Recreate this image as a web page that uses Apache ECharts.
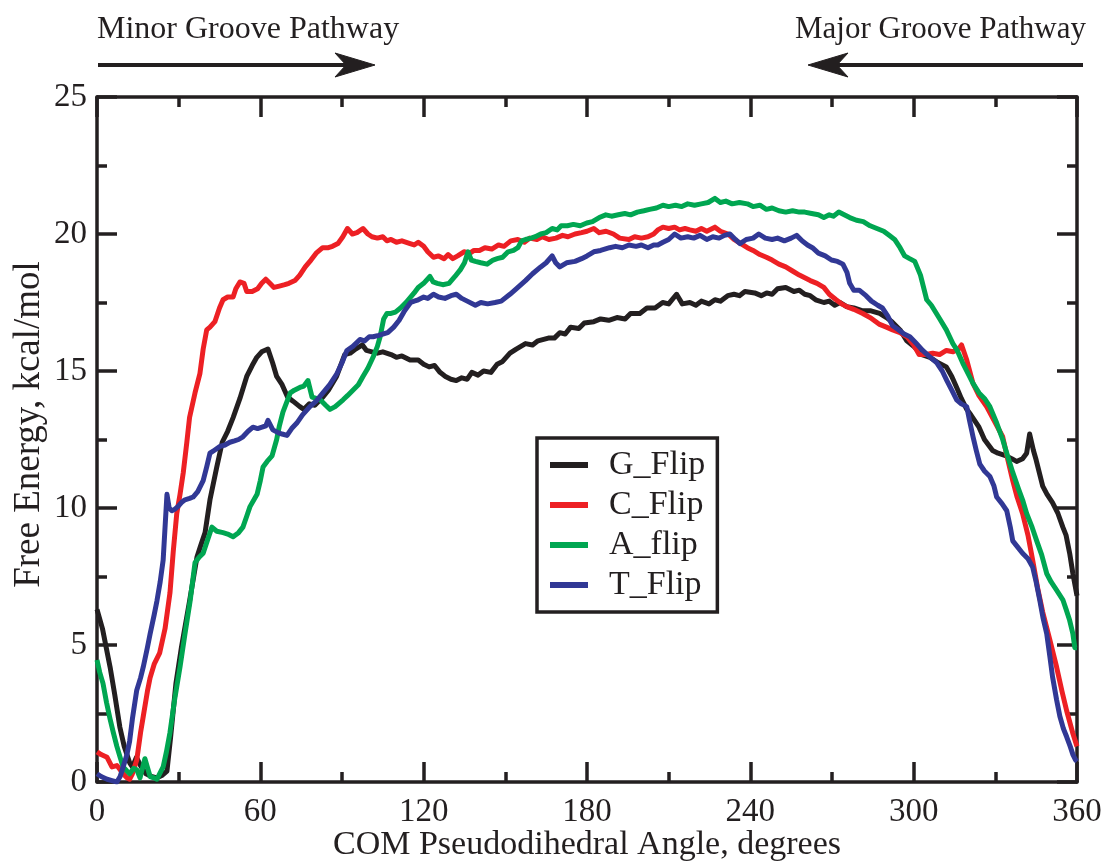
<!DOCTYPE html>
<html>
<head>
<meta charset="utf-8">
<script src="https://cdn.jsdelivr.net/npm/echarts@6/dist/echarts.min.js"></script>
<style>
html,body{margin:0;padding:0;background:#fff;}
#chart{width:1108px;height:861px;}
</style>
</head>
<body>
<div id="chart"></div>
<script>
// ---- data (angle in degrees, free energy in kcal/mol) ----
var seriesNames = ['G_Flip', 'C_Flip', 'A_flip', 'T_Flip'];
var xTicks = [0, 60, 120, 180, 240, 300, 360];
var yTicks = [0, 5, 10, 15, 20, 25];

var gFlip = [[0,6.3],[2,5.6],[4.8,4.2],[6.5,3.2],[8.4,2.0],[10,1.3],[12,0.7],[13,0.55],[14.5,0.9],[16,0.6],[18,0.3],[20,0.2],[22,0.15],[24,0.25],[25.7,0.4],[27,1.6],[29,3.6],[31,4.9],[34,6.6],[36.7,8.2],[38,8.6],[39.7,9.1],[41.5,10.3],[44,11.5],[46,12.4],[48,12.8],[50,13.3],[52.5,14.0],[55,14.8],[57,15.2],[58.7,15.5],[60.5,15.7],[62.8,15.8],[64.5,15.3],[66,14.8],[68,14.5],[70,14.05],[72,13.9],[74.5,13.7],[76,13.6],[78,13.8],[80,13.75],[83,14.05],[85,14.3],[88,14.8],[91,15.6],[93,15.65],[95,15.8],[97.5,15.95],[99,15.75],[101,15.7],[103,15.65],[105,15.7],[108,15.6],[110,15.5],[112,15.55],[115,15.4],[118,15.4],[120,15.25],[122,15.15],[124,15.2],[126,14.95],[128,14.8],[130,14.7],[132,14.65],[134,14.75],[136,14.7],[137.7,14.95],[140,14.85],[142,15.0],[144.7,14.95],[147,15.25],[149,15.35],[151.7,15.65],[154,15.8],[157.4,16.0],[160,15.95],[162,16.1],[165.8,16.2],[168,16.2],[170,16.4],[172,16.35],[174,16.6],[177,16.55],[179,16.75],[182.5,16.8],[185,16.9],[188,16.85],[191,16.95],[194,16.9],[196,17.1],[199.4,17.1],[202,17.3],[205,17.3],[207.8,17.5],[210,17.45],[212.9,17.8],[215,17.45],[217.8,17.5],[220,17.4],[222,17.55],[224.8,17.45],[227,17.6],[229,17.55],[231.7,17.75],[234,17.8],[236,17.75],[238,17.9],[241.6,17.85],[244,17.75],[246,17.85],[248,17.8],[250,18.0],[253,18.05],[256,17.9],[258,17.95],[260,17.8],[262,17.75],[264,17.6],[267,17.5],[269,17.55],[271,17.4],[273,17.5],[275.4,17.35],[278,17.3],[281,17.2],[284,17.2],[287.5,17.1],[290,16.95],[292,16.8],[295,16.5],[297.5,16.1],[300,15.9],[303,15.6],[306,15.5],[309,15.3],[312,15.15],[314,14.8],[315.8,14.4],[317.5,14.0],[319.5,13.6],[321,13.4],[324,12.95],[326,12.5],[329,12.1],[331,12.0],[334,11.9],[336,11.8],[337.8,11.7],[340,11.8],[341.5,12.0],[342.6,12.7],[344,12.1],[345,11.75],[347.4,10.8],[349,10.5],[351,10.2],[353,9.8],[354.8,9.3],[356,9.0],[357.3,8.35],[358.5,7.6],[360,6.8]];

var cFlip = [[0,1.1],[1.5,1.0],[3.7,0.9],[5.5,0.55],[7.3,0.6],[8.5,0.45],[9.6,0.3],[11,0.15],[12,0.1],[13,0.3],[14.6,0.8],[16,1.8],[17,2.4],[18.5,3.3],[19.5,3.8],[21,4.3],[23,4.7],[25,5.6],[26.8,6.9],[28,8.4],[29.3,9.8],[30.5,10.5],[31.7,11.3],[33,12.4],[34,13.3],[36,14.2],[37.8,14.9],[39,15.8],[40.3,16.5],[41.5,16.6],[43.3,16.8],[45,17.3],[46.3,17.6],[48,17.7],[50,17.7],[51,18.0],[52.5,18.25],[54,18.2],[55,17.9],[57,17.9],[59,18.0],[60.5,18.2],[62,18.35],[63.5,18.2],[65,18.05],[67,18.1],[69,18.15],[70.5,18.2],[72.7,18.3],[74.5,18.5],[76.5,18.8],[78.6,19.05],[80.5,19.3],[82.9,19.5],[85,19.5],[86.5,19.55],[88.5,19.65],[90.3,19.9],[92,20.2],[93.8,20.0],[95.5,20.05],[97.7,20.2],[99.5,20.0],[101,19.9],[103,19.85],[105,19.9],[106.5,19.75],[108,19.8],[110,19.7],[112,19.75],[115,19.65],[116.5,19.6],[118,19.7],[120,19.55],[121.5,19.35],[123.6,19.15],[125.5,19.2],[127.5,19.1],[129,19.25],[130.7,19.1],[132.5,19.2],[134.8,19.35],[137,19.3],[138.5,19.4],[140.5,19.4],[142.5,19.5],[145,19.45],[147.5,19.6],[149.5,19.55],[152,19.75],[154.6,19.8],[157,19.7],[159,19.85],[161.6,19.8],[163.5,19.9],[166,19.8],[168.6,19.85],[171,19.95],[173,19.9],[175.6,20.0],[178,20.05],[180,20.1],[182.5,20.2],[184.5,20.05],[187,20.1],[189.7,20.0],[192,19.85],[195.4,19.8],[197.5,19.9],[200,19.85],[202.4,19.9],[204.5,20.0],[206,20.15],[207.9,20.25],[210,20.2],[212.2,20.25],[214,20.15],[216,20.2],[217.8,20.15],[220,20.1],[222,20.2],[224,20.1],[227,20.25],[229,20.1],[231.8,20.0],[234,19.8],[236.5,19.65],[238.9,19.5],[241,19.4],[243.5,19.25],[245.9,19.15],[248,19.05],[250.5,18.9],[253,18.8],[255.5,18.65],[258,18.5],[260,18.4],[262,18.3],[264.5,18.2],[267,18.05],[269,17.8],[271.5,17.6],[273.5,17.45],[275.4,17.35],[278,17.25],[281.3,17.1],[284,16.95],[287.5,16.7],[290,16.6],[292.3,16.5],[295,16.4],[297.5,16.25],[300,15.95],[302,15.6],[304.5,15.6],[307,15.65],[309.5,15.6],[312,15.75],[314.5,15.7],[316.5,15.8],[317.6,15.95],[319.5,15.4],[321.8,14.55],[324,14.1],[326.8,13.7],[329.5,13.2],[332.7,12.6],[334.5,11.8],[336.4,11.0],[338,10.4],[340,9.8],[342,9.0],[343.7,8.1],[345.5,7.1],[347.4,6.2],[350,5.2],[352.5,4.2],[354.5,3.3],[356.2,2.6],[358.4,1.8],[360,1.3]];

var aFlip = [[0,4.45],[1,4.0],[2.2,3.6],[3.5,2.9],[4.8,2.3],[6,1.8],[7.3,1.3],[8.5,0.9],[9.6,0.55],[11,0.4],[12,0.3],[13.5,0.5],[14.6,0.45],[15.8,0.15],[17.6,0.85],[19.5,0.2],[21,0.15],[22,0.1],[23,0.3],[24.3,0.55],[25.5,1.1],[26.8,1.8],[28.5,3.0],[30.5,4.2],[32.3,5.4],[34.2,6.6],[36,8.0],[37.5,8.2],[39,8.35],[40.5,8.8],[42.2,9.3],[44,9.15],[46.3,9.1],[48,9.05],[50,8.95],[52,9.1],[53.6,9.3],[55,9.7],[56.2,10.05],[58.8,10.5],[60,11.0],[61,11.5],[62.5,11.7],[64.3,11.9],[66,12.5],[67,13.0],[68.3,13.5],[71,14.2],[72.5,14.3],[74.5,14.4],[76,14.45],[77.5,14.65],[79,14.05],[80.5,14.0],[82,13.95],[84,13.75],[85.6,13.6],[87.5,13.7],[90.4,13.95],[92,14.1],[94,14.3],[96,14.5],[97.7,14.8],[99.5,15.1],[101.4,15.5],[103,15.9],[104,16.25],[105.3,16.9],[106.5,17.1],[108,17.1],[109.6,17.15],[111.5,17.3],[113.5,17.5],[115.2,17.7],[116.5,17.85],[118,18.05],[120,18.2],[122.3,18.45],[123.5,18.25],[125,18.2],[127,18.15],[129.3,18.2],[131.5,18.45],[133.5,18.7],[135,18.95],[136.3,19.35],[137.5,19.05],[139,19.0],[141,18.95],[143.3,18.9],[145.5,19.05],[147,19.1],[149,19.15],[151,19.35],[153,19.4],[154.6,19.5],[156,19.75],[157.4,19.8],[159.5,19.85],[161,19.9],[163,20.0],[165,20.05],[167.2,20.2],[169,20.15],[170.5,20.3],[172.8,20.3],[175,20.35],[177.5,20.3],[179.9,20.4],[182,20.45],[184.5,20.6],[186.9,20.7],[189,20.65],[191.5,20.7],[193.9,20.75],[196,20.7],[198.5,20.8],[200.9,20.85],[203,20.9],[205.5,20.95],[207.9,21.05],[210,21.0],[212.5,21.05],[214.8,21.0],[217,21.1],[219.5,21.05],[222,21.1],[224.5,21.15],[227,21.3],[229,21.15],[231,21.2],[233.3,21.1],[236,21.15],[238.9,21.1],[241,21.0],[243.5,21.05],[245.9,20.9],[248,20.95],[250.5,20.85],[253,20.8],[255.5,20.85],[258,20.8],[260,20.8],[262.5,20.75],[265,20.7],[267,20.6],[269,20.7],[270.5,20.65],[272.5,20.8],[274.5,20.7],[276.5,20.6],[279,20.5],[281.5,20.45],[284,20.3],[286.5,20.2],[289,20.1],[291,19.95],[293,19.8],[295,19.5],[296.7,19.2],[298.5,19.1],[300.4,19.0],[302.5,18.5],[304.8,17.6],[306.5,17.4],[309.6,16.9],[312,16.5],[314.4,16.0],[316,15.75],[318,15.3],[320,14.9],[321.8,14.55],[324,14.2],[326,14.0],[328,13.7],[330.5,13.1],[332.7,12.5],[334.5,11.9],[336.4,11.3],[338.5,10.7],[340,10.3],[341.5,9.8],[343.5,9.3],[345.2,8.8],[347,8.3],[348.9,7.6],[350.5,7.3],[352.5,7.0],[354.8,6.65],[356,6.3],[357.3,5.9],[358.5,5.4],[359.2,4.9],[360,4.9]];

var tFlip = [[0,0.3],[1.5,0.2],[3.7,0.1],[5.5,0.05],[7.3,0.0],[8.5,0.2],[9.6,0.55],[11,1.0],[12,1.5],[13,2.3],[14.6,3.35],[16,3.8],[17,4.2],[18.5,4.9],[19.5,5.4],[21,6.1],[22,6.6],[23.2,7.3],[24.3,8.1],[25,9.3],[25.7,10.5],[26.5,10.0],[27.5,9.9],[28.5,9.95],[29.7,10.05],[31,10.2],[32.3,10.3],[34,10.35],[35.3,10.4],[37,10.6],[39,11.0],[40.3,11.5],[41.5,12.0],[43,12.1],[45.2,12.25],[47,12.3],[48.8,12.4],[50.5,12.45],[52,12.5],[53.6,12.6],[55.5,12.8],[57.3,12.95],[59,12.9],[60.6,12.95],[62,13.0],[62.8,13.2],[64.6,12.85],[66.5,12.75],[68,12.7],[69.8,12.65],[71.5,12.9],[73.4,13.1],[75.5,13.4],[78.2,13.7],[80.5,13.9],[83,14.2],[85.5,14.5],[88.1,14.9],[90,15.3],[91.8,15.75],[94,15.9],[96.6,16.15],[98.3,16.1],[100,16.25],[101.4,16.25],[103.5,16.3],[105,16.35],[106.8,16.4],[109,16.6],[111,16.85],[113,17.2],[115.2,17.5],[116.5,17.55],[118,17.6],[120,17.7],[121.5,17.65],[123.6,17.8],[125.5,17.7],[127.8,17.65],[130,17.75],[132,17.8],[134,17.65],[136,17.55],[139,17.4],[141,17.5],[143.5,17.45],[146.2,17.5],[148.5,17.55],[151.7,17.8],[154,18.0],[157.4,18.3],[160,18.55],[163,18.8],[165,18.95],[167.2,19.2],[168.5,18.95],[170,18.8],[172.5,18.95],[175.6,19.0],[178,19.1],[180,19.2],[182.5,19.35],[185,19.4],[188.3,19.5],[190.5,19.55],[193,19.5],[195.4,19.6],[198,19.55],[200,19.6],[202.4,19.5],[204.5,19.6],[206,19.6],[207.9,19.7],[210,19.8],[212.2,20.0],[214.5,19.85],[217,19.9],[219.2,19.85],[221.5,19.95],[224,19.8],[226.2,19.9],[228.5,19.85],[230.5,19.95],[232.5,20.0],[234.5,19.8],[236.2,19.65],[238.5,19.8],[241,19.85],[243.1,20.0],[245.5,19.85],[248,19.8],[250,19.85],[252.5,19.75],[255,19.85],[257,19.95],[259,19.75],[261,19.6],[262.8,19.5],[265,19.3],[267.5,19.2],[269.8,19.05],[272,19.0],[274,18.9],[275.5,18.6],[276.5,18.2],[278,17.95],[280,17.95],[282.5,17.75],[284.5,17.55],[286.8,17.4],[288.5,17.3],[290.5,17.0],[292.3,16.65],[294.5,16.5],[296.5,16.35],[298.6,16.25],[301,16.0],[303.3,15.75],[305.5,15.55],[308.5,15.3],[310.5,15.0],[312.2,14.65],[314,14.3],[315.8,13.95],[317.5,13.8],[319.5,13.7],[320.5,13.2],[321.8,12.6],[323,12.1],[324.3,11.6],[326,11.35],[328,11.15],[329.5,10.8],[330.5,10.4],[332.5,10.15],[334.2,9.9],[335.5,9.3],[336.4,8.8],[338,8.6],[340,8.35],[342,8.15],[343.7,7.85],[345,7.3],[346.3,6.65],[347.5,6.0],[348.9,5.4],[350,4.6],[351,3.85],[352.5,3.0],[353.7,2.4],[355,1.95],[356.2,1.65],[357.5,1.3],[358.5,1.0],[359.5,0.8],[360,0.75]];

var seriesData = [gFlip, cFlip, aFlip, tFlip];
var seriesColors = ['#231f20', '#ed2024', '#00a651', '#313895'];

// ---- chart ----
var FONT = 'Liberation Serif';
var INK = '#231f20';
var chart = echarts.init(document.getElementById('chart'), null, {renderer: 'canvas'});

function makeX(pos, showLabels, nameText) {
  return {
    type: 'value', position: pos, min: xTicks[0], max: xTicks[xTicks.length - 1], interval: 60,
    name: nameText || '', nameLocation: 'middle', nameGap: 46, nameMoveOverlap: false,
    nameTextStyle: {fontFamily: FONT, fontSize: 34, color: INK},
    axisLine: {show: true, onZero: false, lineStyle: {color: INK, width: 3.5}},
    axisTick: {show: true, inside: true, length: 20, lineStyle: {color: INK, width: 3.5}},
    minorTick: {show: true, splitNumber: 2, length: 10, lineStyle: {color: INK, width: 3.5}},
    axisLabel: {show: showLabels, margin: 14, fontFamily: FONT, fontSize: 33, color: INK},
    splitLine: {show: false}, minorSplitLine: {show: false}
  };
}
function makeY(pos, showLabels, nameText) {
  return {
    type: 'value', position: pos, min: yTicks[0], max: yTicks[yTicks.length - 1], interval: 5,
    name: nameText || '', nameLocation: 'middle', nameGap: 49, nameRotate: 90, nameMoveOverlap: false,
    nameTextStyle: {fontFamily: FONT, fontSize: 37, color: INK, padding: [0, 0, 0, 30]},
    axisLine: {show: true, onZero: false, lineStyle: {color: INK, width: 3.5}},
    axisTick: {show: true, inside: true, length: 20, lineStyle: {color: INK, width: 3.5}},
    minorTick: {show: true, splitNumber: 2, length: 10, lineStyle: {color: INK, width: 3.5}},
    axisLabel: {show: showLabels, margin: 10, fontFamily: FONT, fontSize: 33, color: INK},
    splitLine: {show: false}, minorSplitLine: {show: false}
  };
}

var series = seriesNames.map(function (name, i) {
  return {
    name: name, type: 'line', xAxisIndex: 0, yAxisIndex: 0,
    data: seriesData[i], showSymbol: false, symbol: 'none', smooth: false,
    lineStyle: {color: seriesColors[i], width: 5, join: 'round'},
    itemStyle: {color: seriesColors[i]},
    animation: false, clip: true
  };
});

var arrowStyle = {fill: INK, stroke: INK};
var option = {
  animation: false,
  backgroundColor: '#ffffff',
  textStyle: {fontFamily: FONT, color: INK},
  grid: {left: 97, right: 31, top: 97, bottom: 79, containLabel: false, outerBoundsMode: 'none'},
  xAxis: [makeX('bottom', true, 'COM Pseudodihedral Angle, degrees'), makeX('top', false)],
  yAxis: [makeY('left', true, 'Free Energy, kcal/mol'), makeY('right', false)],
  legend: {
    data: seriesNames, orient: 'vertical', left: 537, top: 438,
    padding: [10, 12, 10, 13], itemGap: 6, itemWidth: 38, itemHeight: 6,
    icon: 'rect', borderColor: INK, borderWidth: 3.5, backgroundColor: '#fff',
    textStyle: {fontFamily: FONT, fontSize: 34, color: INK, padding: [0, 0, 0, 16], lineHeight: 34},
    selectedMode: false
  },
  series: series,
  graphic: [
    {type: 'text', left: 97, top: 14, style: {text: 'Minor Groove Pathway', font: '32px ' + FONT, fill: INK}},
    {type: 'text', right: 22, top: 14, style: {text: 'Major Groove Pathway', font: '31px ' + FONT, fill: INK}},
    {type: 'line', shape: {x1: 98, y1: 65, x2: 350, y2: 65}, style: {stroke: INK, lineWidth: 4}},
    {type: 'polygon', shape: {points: [[375, 65], [335, 53], [346, 65], [335, 77]]}, style: arrowStyle},
    {type: 'line', shape: {x1: 1083, y1: 65, x2: 833, y2: 65}, style: {stroke: INK, lineWidth: 4}},
    {type: 'polygon', shape: {points: [[808, 65], [848, 53], [837, 65], [848, 77]]}, style: arrowStyle}
  ]
};
chart.setOption(option);
</script>
</body>
</html>
